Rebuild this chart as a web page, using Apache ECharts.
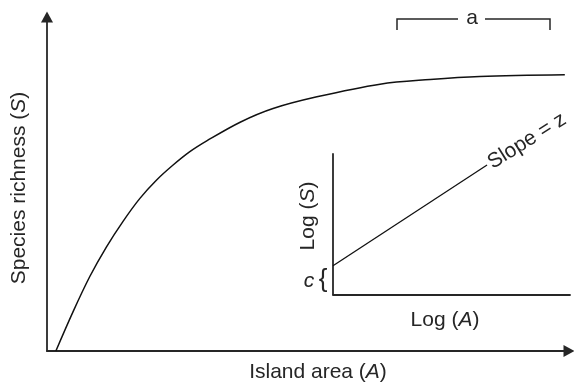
<!DOCTYPE html>
<html>
<head>
<meta charset="utf-8">
<script src="https://cdn.jsdelivr.net/npm/echarts@6/dist/echarts.min.js"></script>
<style>
html,body{margin:0;padding:0;background:#fff;}
#chart{width:574px;height:386px;}
</style>
</head>
<body>
<div id="chart"></div>
<script>
// Main curve: island area (A) vs species richness (S), arbitrary units 0-100
const areaX = [1.7, 5.0, 8.2, 11.4, 14.6, 17.8, 21.0, 24.1, 27.3, 30.6, 37.0, 43.3, 51.7, 63.8, 73.4, 82.9, 99.2];
const richnessS = [0, 11.8, 22.3, 31.2, 38.9, 45.7, 51.2, 55.6, 59.6, 62.9, 68.5, 72.6, 76.1, 79.9, 81.3, 82.2, 82.7];
// Inset: Log(A) vs Log(S), arbitrary units 0-100
const logA = [0, 65];
const logS = [20.5, 92.2];

const mainData = areaX.map((x, i) => [x, richnessS[i]]);
const insetData = logA.map((x, i) => [x, logS[i]]);

const INK = '#262626';
const FONT = 'Liberation Sans, Arial, Helvetica, sans-serif';

function hiddenAxis(extra) {
  return Object.assign({
    type: 'value', min: 0, max: 100,
    axisLabel: {show: false}, axisTick: {show: false}, splitLine: {show: false}
  }, extra);
}

const chart = echarts.init(document.getElementById('chart'), null, {renderer: 'canvas'});
const txt = (text, x, y, extra) => Object.assign({
  type: 'text', x: x, y: y, silent: true,
  style: Object.assign({
    text: text, fill: INK, font: '21px ' + FONT, align: 'center', verticalAlign: 'middle',
    rich: {
      n: {fontSize: 21, fontFamily: FONT, fill: INK},
      i: {fontSize: 21, fontFamily: FONT, fontStyle: 'italic', fill: INK}
    }
  }, extra && extra.style || {})
}, extra && extra.el || {});

chart.setOption({
  animation: false,
  backgroundColor: '#ffffff',
  grid: [
    {left: 47, right: 5, top: 17, bottom: 35},
    {left: 333, right: 4, top: 154, bottom: 91.5}
  ],
  xAxis: [
    hiddenAxis({gridIndex: 0, axisLine: {show: true, symbol: ['none', 'triangle'], symbolSize: [12, 11], lineStyle: {color: INK, width: 1.8}}}),
    hiddenAxis({gridIndex: 1, axisLine: {show: true, lineStyle: {color: INK, width: 1.8}}})
  ],
  yAxis: [
    hiddenAxis({gridIndex: 0, axisLine: {show: true, symbol: ['none', 'triangle'], symbolSize: [12, 11], lineStyle: {color: INK, width: 1.8}}}),
    hiddenAxis({gridIndex: 1, axisLine: {show: true, lineStyle: {color: INK, width: 1.8}}})
  ],
  series: [
    {type: 'line', xAxisIndex: 0, yAxisIndex: 0, data: mainData, smooth: 0.35,
     showSymbol: false, lineStyle: {color: '#111', width: 1.5}, silent: true},
    {type: 'line', xAxisIndex: 1, yAxisIndex: 1, data: insetData, showSymbol: false,
     lineStyle: {color: '#111', width: 1.3}, silent: true}
  ],
  graphic: [
    txt('{n|Species richness (}{i|S}{n|)}', 19, 188, {el: {rotation: Math.PI / 2}}),
    txt('{n|Island area (}{i|A}{n|)}', 318, 372),
    txt('{n|Log (}{i|S}{n|)}', 308, 216, {el: {rotation: Math.PI / 2}}),
    txt('{n|Log (}{i|A}{n|)}', 445, 320),
    txt('{i|c}', 309, 281),
    txt('{', 323, 280, {style: {font: '26px ' + FONT}}),
    txt('Slope = z', 527, 141, {el: {rotation: 32 * Math.PI / 180}}),
    txt('a', 472, 18),
    {type: 'polyline', silent: true, shape: {points: [[397, 30], [397, 19], [458, 19]]},
     style: {stroke: INK, lineWidth: 1.5, fill: null}},
    {type: 'polyline', silent: true, shape: {points: [[485, 19], [550, 19], [550, 30]]},
     style: {stroke: INK, lineWidth: 1.5, fill: null}}
  ]
});
</script>
</body>
</html>
